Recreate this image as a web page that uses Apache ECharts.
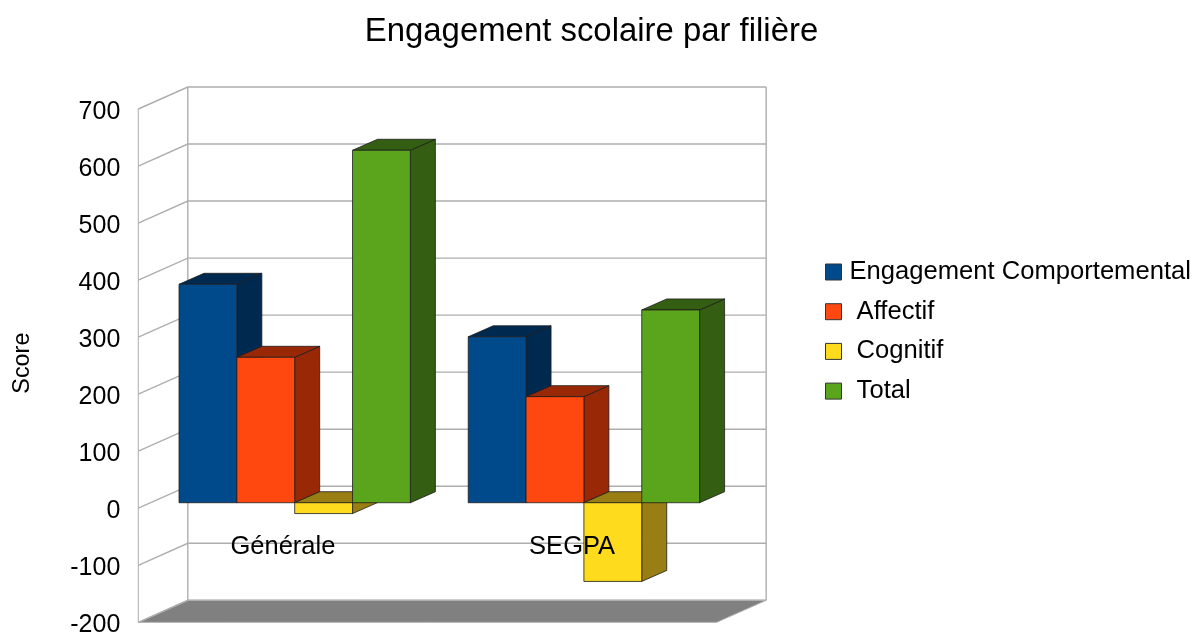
<!DOCTYPE html>
<html>
<head>
<meta charset="utf-8">
<script src="https://cdn.jsdelivr.net/npm/echarts@6/dist/echarts.min.js"></script>
<style>html,body{margin:0;padding:0;background:#fff}#c{width:1195px;height:634px}</style>
</head>
<body>
<div id="c"></div>
<script>
const categories = ["Générale", "SEGPA"];
const seriesNames = ["Engagement Comportemental", " Affectif", " Cognitif", " Total"];
const engagement = [383, 291];
const affectif = [255, 186];
const cognitif = [-19, -138];
const total = [618, 338];
const yTicks = [-200, -100, 0, 100, 200, 300, 400, 500, 600, 700];
const faceColors = ["#004a8c", "#ff4810", "#ffdb1e", "#5ba51d"];
const darkColors = ["#002950", "#992807", "#997e13", "#345e11"];

const wallDx = 49.5, wallDy = -22;   // depth of the back wall
const barDx = 11.8, barDy = -5.5;    // front of the bars within the depth
const barDepthX = 25, barDepthY = -11;
const GRID = "#aeaeae";

function poly(points, fill, stroke, lw) {
  return {type: "polygon", shape: {points}, style: {fill, stroke, lineWidth: lw}};
}

function renderWall(params, api) {
  const v = api.value(0);
  const cs = params.coordSys;
  const y = api.coord([0, v])[1];
  const xl = cs.x, xr = cs.x + cs.width;
  const children = [];
  if (v === yTicks[0]) {
    children.push(poly([[xl, y], [xl + wallDx, y + wallDy], [xr + wallDx, y + wallDy], [xr, y]], "#808080", GRID, 1));
  }
  children.push({type: "polyline", shape: {points: [[xl, y], [xl + wallDx, y + wallDy], [xr + wallDx, y + wallDy]]},
    style: {fill: "none", stroke: GRID, lineWidth: 1.4}});
  if (v === yTicks[yTicks.length - 1]) {
    const yb = api.coord([0, yTicks[0]])[1];
    children.push({type: "line", shape: {x1: xl + wallDx, y1: y + wallDy, x2: xl + wallDx, y2: yb + wallDy}, style: {stroke: GRID, lineWidth: 1.4}});
    children.push({type: "line", shape: {x1: xr + wallDx, y1: y + wallDy, x2: xr + wallDx, y2: yb + wallDy}, style: {stroke: GRID, lineWidth: 1.4}});
    children.push({type: "line", shape: {x1: xl, y1: y, x2: xl, y2: yb}, style: {stroke: GRID, lineWidth: 1}});
  }
  return {type: "group", children};
}

function makeRenderBar(s) {
  return function (params, api) {
    const idx = api.value(0), v = api.value(1);
    const c = api.coord([idx, v]), c0 = api.coord([idx, 0]);
    const w = api.size([1, 0])[0] * 0.2;
    const x0 = c[0] + (s - 2) * w + barDx, x1 = x0 + w;
    const yv = c[1] + barDy, yz = c0[1] + barDy;
    const yTop = Math.min(yv, yz), yBot = Math.max(yv, yz);
    const line = "#1d1d1d";
    return {type: "group", children: [
      poly([[x1, yTop], [x1 + barDepthX, yTop + barDepthY], [x1 + barDepthX, yBot + barDepthY], [x1, yBot]], darkColors[s], line, 0.8),
      poly([[x0, yTop], [x0 + barDepthX, yTop + barDepthY], [x1 + barDepthX, yTop + barDepthY], [x1, yTop]], darkColors[s], line, 0.8),
      poly([[x0, yTop], [x1, yTop], [x1, yBot], [x0, yBot]], faceColors[s], line, 0.8)
    ]};
  };
}

const seriesValues = [engagement, affectif, cognitif, total];
const chart = echarts.init(document.getElementById("c"), null, {renderer: "canvas"});
chart.setOption({
  animation: false,
  backgroundColor: "#fff",
  textStyle: {fontFamily: "Liberation Sans"},
  title: {
    text: "Engagement scolaire par filière", left: 586.5, top: 10, textAlign: "center",
    textStyle: {fontFamily: "Liberation Sans", fontSize: 32.9, fontWeight: "normal", color: "#000"}
  },
  legend: {
    orient: "vertical", left: 825, top: 258, itemWidth: 16, itemHeight: 16, itemGap: 11.7,
    selectedMode: false, padding: 0,
    data: seriesNames.map(name => ({name, icon: "rect"})),
    itemStyle: {borderColor: "#333", borderWidth: 1},
    textStyle: {fontFamily: "Liberation Sans", fontSize: 25.6, color: "#000", lineHeight: 25, padding: [3, 0, 0, 3]}
  },
  grid: {left: 138.3, top: 109, width: 578.4, height: 513.3, containLabel: false, outerBoundsMode: "none"},
  xAxis: {
    type: "category", data: categories, z: 10,
    axisLine: {show: false}, axisTick: {show: false}, splitLine: {show: false},
    axisLabel: {fontFamily: "Liberation Sans", fontSize: 25.5, color: "#000", margin: -88}
  },
  yAxis: {
    type: "value", min: -200, max: 700, interval: 100, name: "Score",
    nameLocation: "middle", nameRotate: 90, nameGap: 104,
    nameTextStyle: {fontFamily: "Liberation Sans", fontSize: 23.4, color: "#000", padding: [0, 0, 0, 5]},
    axisLine: {show: false}, axisTick: {show: false}, splitLine: {show: false},
    axisLabel: {fontFamily: "Liberation Sans", fontSize: 25, color: "#000", margin: 18, verticalAlign: "top", lineHeight: 6}
  },
  series: [
    {name: "walls", type: "custom", z: 1, silent: true, renderItem: renderWall,
     encode: {y: 0}, data: yTicks.map(t => [t])}
  ].concat(seriesNames.map((name, s) => ({
    name, type: "custom", z: 2 + s, renderItem: makeRenderBar(s),
    itemStyle: {color: faceColors[s]},
    encode: {x: 0, y: 1},
    data: seriesValues[s].map((v, i) => [i, v])
  })))
});
</script>
</body>
</html>
